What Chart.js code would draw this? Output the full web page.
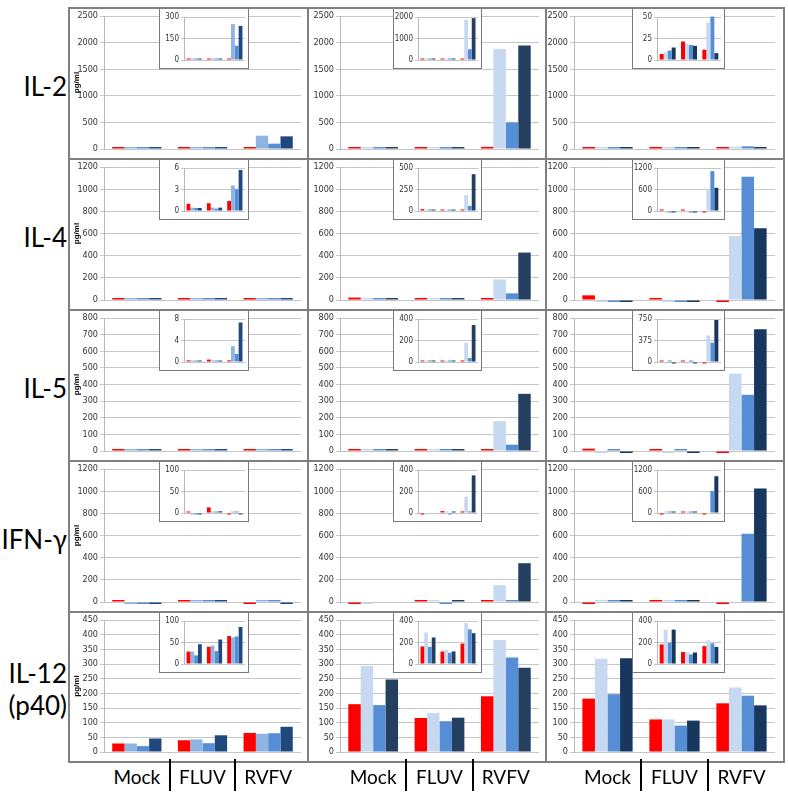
<!DOCTYPE html>
<html><head><meta charset="utf-8">
<script src="https://cdn.jsdelivr.net/npm/chart.js@4.4.1/dist/chart.umd.min.js"></script>
<style>
html,body{margin:0;padding:0;background:#fff;}
#root{position:relative;width:788px;height:796px;overflow:hidden;font-family:Lato,"Open Sans",sans-serif;}
canvas{position:absolute;display:block;}
.inset{position:absolute;background:#fff;border:1px solid #7a7a7a;box-sizing:border-box;}
.rowlab{position:absolute;left:0;width:67px;font-size:26px;color:#000;text-align:right;line-height:32px;white-space:pre;}
.grp{position:absolute;font-size:19px;color:#000;transform:translateX(-50%);white-space:nowrap;line-height:20px;}
.sep{position:absolute;width:2px;background:#000;}
.line{position:absolute;background:#808080;}
</style></head><body><div id="root"></div>
<script>
// ---------- DATA ----------
const groups = ['Mock', 'FLUV', 'RVFV'];
const cytokines = ['IL-2', 'IL-4', 'IL-5', 'IFN-γ', 'IL-12\n(p40)'];
// each panel: [red, light blue, mid blue, dark blue], values for Mock / FLUV / RVFV (pg/ml)
const il2_c1 = [[9, 9, 6], [9, 9, 250], [9, 9, 100], [9, 9, 238]];
const il2_c2 = [[20, 22, 40], [35, 30, 1880], [30, 25, 500], [32, 35, 1945]];
const il2_c3 = [[7, 21.5, 12], [9, 18.5, 43.5], [11, 17.5, 50.5], [14.5, 16.5, 8]];
const il4_c1 = [[1.0, 1.08, 1.4], [0.47, 0.47, 3.57], [0.42, 0.33, 3.05], [0.42, 0.47, 5.73]];
const il4_c2 = [[22, 15, 10], [4, 3, 185], [10, 10, 60], [10, 16, 428]];
const il4_c3 = [[42, 15, -10], [-8, -5, 578], [-10, -10, 1112], [-10, -10, 648]];
const il5_c1 = [[0.3, 0.45, 0.3], [0.13, 0.13, 2.95], [0.1, 0.06, 1.5], [0.05, 0.13, 7.35]];
const il5_c2 = [[10, 10, 10], [3, 3, 180], [8, 8, 38], [8, 8, 344]];
const il5_c3 = [[14, 2, -3], [-4, -4, 464], [3, 3, 338], [-4, -4, 733]];
const ifn_c1 = [[2, 13, -2], [-1.5, 3, 0.5], [-1.5, 0.5, 3], [-1.5, 4, -2]];
const ifn_c2 = [[-5, 18, 15], [-2, 5, 152], [null, -6, 15], [null, 10, 350]];
const ifn_c3 = [[-5, 17, -5], [2, 0, null], [5, 5, 615], [5, 5, 1025]];
const il12_c1 = [[29, 40, 65], [29, 43, 62], [20, 30, 64], [46, 57, 86]];
const il12_c2 = [[163, 116, 190], [293, 133, 382], [160, 105, 322], [247, 117, 287]];
const il12_c3 = [[182, 111, 166], [318, 111, 220], [197, 90, 192], [320, 107, 159]];
const panels = [
  [il2_c1, il2_c2, il2_c3],
  [il4_c1, il4_c2, il4_c3],
  [il5_c1, il5_c2, il5_c3],
  [ifn_c1, ifn_c2, ifn_c3],
  [il12_c1, il12_c2, il12_c3]
];
const mainMax = [2500, 1200, 800, 1200, 450];
const mainStep = [500, 200, 100, 200, 50];
const insetMax = [[300, 2000, 50], [6, 500, 1200], [8, 400, 750], [100, 400, 1200], [100, 400, 400]];
const insetStep = [[150, 1000, 25], [3, 250, 600], [4, 200, 375], [50, 200, 600], [50, 200, 200]];
const colColors = [
  ['#FF0000', '#8DB4E2', '#558ED5', '#1F497D'],
  ['#FF0000', '#C6D9F1', '#558ED5', '#243F60'],
  ['#FF0000', '#C6D9F1', '#558ED5', '#17375E']
];

// ---------- LAYOUT ----------
const colX = [69, 308, 546, 784];
const rowY = [8, 159, 310, 461, 612, 762];
const plotLeft = [35, 32, 28];
const plotRight = [7, 7, 9];
const insetBox = [[159, 249], [393, 482], [632, 725]];
const insetH = 61;
const tickFont = '"Liberation Sans Narrow","Arial Narrow","DejaVu Sans Condensed","Liberation Sans",Arial,sans-serif';

const root = document.getElementById('root');
function el(tag, cls, css, parent) {
  const e = document.createElement(tag);
  if (cls) e.className = cls;
  Object.assign(e.style, css || {});
  (parent || root).appendChild(e);
  return e;
}

function makeChart(parent, left, top, w, h, series, colors, cfg) {
  const cv = el('canvas', null, {left: left + 'px', top: top + 'px', width: w + 'px', height: h + 'px'}, parent);
  cv.width = w; cv.height = h;
  return new Chart(cv, {
    type: 'bar',
    data: {
      labels: groups,
      datasets: series.map((vals, i) => ({
        data: vals,
        backgroundColor: colors[i],
        borderWidth: 0,
        categoryPercentage: 0.75,
        barPercentage: 1.0,
        minBarLength: cfg.mbl,
        clip: false
      }))
    },
    options: {
      responsive: false,
      animation: false,
      events: [],
      layout: {padding: {left: 0, right: cfg.pr, top: cfg.pt, bottom: cfg.pb}},
      plugins: {legend: {display: false}, tooltip: {enabled: false}},
      scales: {
        x: {display: false},
        y: {
          min: 0, max: cfg.max,
          afterFit: (s) => { s.width = cfg.yw; },
          ticks: {stepSize: cfg.step, font: {family: tickFont, size: cfg.fs}, color: '#333', padding: 2,
                  callback: (v) => String(v)},
          grid: {color: '#c6c6c6', lineWidth: 1, tickLength: cfg.tl, drawTicks: true},
          border: {display: true, color: '#b8b8b8'},
          title: {display: !!cfg.title, text: 'pg/ml', color: '#000',
                  font: {family: '"Liberation Sans",Arial,sans-serif', size: 8, weight: 'bold'},
                  padding: {top: 3, bottom: 0}}
        }
      }
    }
  });
}

const bottomCharts = [];
for (let r = 0; r < 5; r++) {
  for (let c = 0; c < 3; c++) {
    const x0 = colX[c], x1 = colX[c + 1], y0 = rowY[r], y1 = rowY[r + 1];
    const w = x1 - x0, h = y1 - y0;
    const ch = makeChart(root, x0, y0, w, h, panels[r][c], colColors[c], {
      max: mainMax[r], step: mainStep[r], yw: plotLeft[c], pr: plotRight[c], pt: 8, pb: 10,
      fs: 9, tl: 4, mbl: 2, title: c === 0
    });
    if (r === 4) bottomCharts.push({chart: ch, x0: x0});
    // inset
    const bx0 = insetBox[c][0], bx1 = insetBox[c][1];
    const box = el('div', 'inset', {left: bx0 + 'px', top: y0 + 'px', width: (bx1 - bx0) + 'px', height: insetH + 'px'});
    makeChart(box, 0, 0, bx1 - bx0 - 2, insetH - 2, panels[r][c], colColors[c], {
      max: insetMax[r][c], step: insetStep[r][c], yw: 24, pr: 3, pt: 8, pb: 8,
      fs: 8, tl: 3, mbl: 1.5, title: false
    });
  }
  // row label
  const cy = (rowY[r] + rowY[r + 1]) / 2 + 2;
  const lines = cytokines[r].split('\n').length;
  el('div', 'rowlab', {top: (cy - lines * 16) + 'px'}).textContent = cytokines[r];
}

// panel grid lines
const L = colX[0], R = colX[3], T = rowY[0], B = rowY[5];
el('div', 'line', {left: (L - 1) + 'px', top: (T - 1) + 'px', width: (R - L + 2) + 'px', height: '2px'});
el('div', 'line', {left: (L - 1) + 'px', top: (B - 1) + 'px', width: (R - L + 2) + 'px', height: '2px'});
colX.forEach(x => el('div', 'line', {left: (x - 1) + 'px', top: (T - 1) + 'px', width: '2px', height: (B - T + 2) + 'px'}));
rowY.slice(1, 5).forEach(y => el('div', 'line', {left: (L - 1) + 'px', top: (y - 1) + 'px', width: (R - L + 2) + 'px', height: '2px'}));

// group labels under bottom row, aligned to the chart's category scale
bottomCharts.forEach(({chart, x0}) => {
  const xs = chart.scales.x;
  const ca = chart.chartArea;
  const px = groups.map((g, i) => {
    const p = xs.getPixelForValue(i);
    return isFinite(p) ? p : ca.left + (i + 0.5) * (ca.right - ca.left) / groups.length;
  });
  groups.forEach((g, i) => {
    el('div', 'grp', {left: (x0 + px[i]) + 'px', top: '767px'}).textContent = g;
    if (i < groups.length - 1) {
      const b = (px[i] + px[i + 1]) / 2;
      el('div', 'sep', {left: (x0 + b - 1) + 'px', top: '759px', height: '32px'});
    }
  });
});
</script></body></html>
